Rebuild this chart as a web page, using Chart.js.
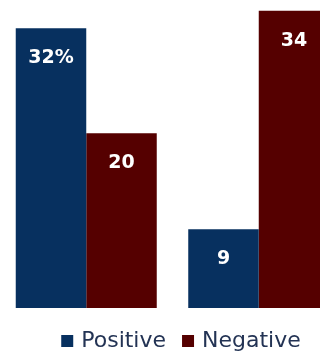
<!DOCTYPE html>
<html>
<head>
<meta charset="utf-8">
<script src="https://cdn.jsdelivr.net/npm/chart.js@4/dist/chart.umd.min.js"></script>
<style>
  html, body { margin: 0; padding: 0; background: #ffffff; overflow: hidden; }
  #wrap { position: relative; width: 320px; height: 354px; overflow: hidden; }
  canvas { display: block; }
</style>
</head>
<body>
<div id="wrap"><canvas id="chart" width="365" height="354"></canvas></div>
<script>
// Two groups compared side by side
const categories = ['Group A', 'Group B'];
const positiveValues = [32, 9];
const negativeValues = [20, 34];
const seriesNames = ['Positive', 'Negative'];

const BLUE = '#07305f';
const RED = '#550000';

// Writes each bar's value in white, a fixed distance below the bar's top edge.
// The very first bar carries the percent sign.
const valueLabels = {
  id: 'valueLabels',
  afterDatasetsDraw(chart) {
    const ctx = chart.ctx;
    ctx.save();
    ctx.fillStyle = '#ffffff';
    ctx.font = 'bold 19px "DejaVu Sans", Verdana, sans-serif';
    ctx.textAlign = 'center';
    ctx.textBaseline = 'middle';
    chart.data.datasets.forEach((ds, di) => {
      chart.getDatasetMeta(di).data.forEach((bar, i) => {
        const v = ds.data[i];
        const text = (di === 0 && i === 0) ? v + '%' : String(v);
        ctx.fillText(text, bar.x, bar.y + 30);
      });
    });
    ctx.restore();
  }
};

new Chart(document.getElementById('chart'), {
  type: 'bar',
  data: {
    labels: categories,
    datasets: [
      { label: seriesNames[0], data: positiveValues, backgroundColor: BLUE, borderWidth: 0 },
      { label: seriesNames[1], data: negativeValues, backgroundColor: RED, borderWidth: 0 }
    ]
  },
  options: {
    responsive: false,
    devicePixelRatio: 1,
    animation: false,
    layout: { padding: { top: 2, left: 0, right: 0, bottom: 0 } },
    datasets: {
      bar: { categoryPercentage: 0.8174, barPercentage: 1 }
    },
    scales: {
      x: {
        display: true,
        grid: { display: false },
        border: { display: false },
        ticks: { display: false },
        afterFit(scale) { scale.height = 3; }
      },
      y: {
        position: 'right',
        min: 0,
        max: 35,
        display: true,
        grid: { display: false },
        border: { display: false },
        ticks: { display: false },
        afterFit(scale) { scale.width = 20; }
      }
    },
    plugins: {
      tooltip: { enabled: false },
      legend: {
        position: 'bottom',
        maxHeight: 43,
        labels: {
          color: '#233354',
          font: { family: '"DejaVu Sans", Verdana, sans-serif', size: 22 },
          boxWidth: 6,
          boxHeight: 6,
          padding: 19,
          generateLabels(chart) {
            const items = Chart.defaults.plugins.legend.labels.generateLabels(chart);
            return items.map(it => Object.assign(it, {
              strokeStyle: it.fillStyle,
              lineWidth: 6,
              lineJoin: 'miter'
            }));
          }
        }
      }
    }
  },
  plugins: [valueLabels]
});
</script>
</body>
</html>
